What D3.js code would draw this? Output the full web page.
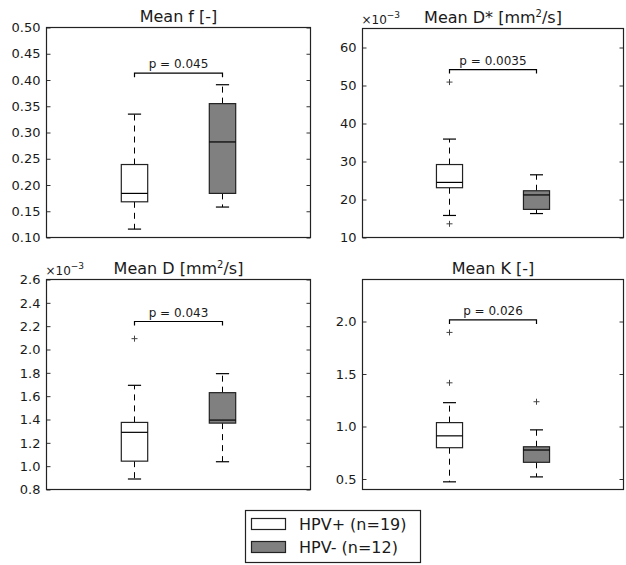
<!DOCTYPE html>
<html><head><meta charset="utf-8">
<script src="https://cdn.jsdelivr.net/npm/d3@7"></script>
<style>
body{margin:0;background:#fff}
svg{display:block}
text{font-family:"DejaVu Sans",sans-serif;fill:#1a1a1a}
</style>
</head><body>
<svg id="c" width="626" height="565"></svg>
<script>
// ---------------- data ----------------
const groups = ["HPV+ (n=19)", "HPV- (n=12)"];
const titles = ["Mean f [-]", "Mean D* [mm|2|/s]", "Mean D [mm|2|/s]", "Mean K [-]"];
const pValues = ["p = 0.045", "p = 0.0035", "p = 0.043", "p = 0.026"];
// box stats per group: [lower whisker, Q1, median, Q3, upper whisker]
const fStats = [[0.116, 0.168, 0.184, 0.239, 0.335], [0.158, 0.184, 0.282, 0.355, 0.391]];
const fOutliers = [[], []];
const dStarStats = [[15.8, 23.1, 24.5, 29.2, 35.9], [16.3, 17.4, 21.2, 22.3, 26.5]];
const dStarOutliers = [[50.9, 13.6], []];
const dStats = [[0.89, 1.043, 1.29, 1.375, 1.693], [1.038, 1.369, 1.395, 1.63, 1.793]];
const dOutliers = [[2.093], []];
const kStats = [[0.473, 0.798, 0.911, 1.037, 1.227], [0.52, 0.659, 0.776, 0.807, 0.968]];
const kOutliers = [[1.896, 1.416], [1.236]];
const yDomains = [[0.10, 0.50], [10, 65], [0.8, 2.6], [0.4, 2.4]];
const yTicks = [
  [0.10, 0.15, 0.20, 0.25, 0.30, 0.35, 0.40, 0.45, 0.50],
  [10, 20, 30, 40, 50, 60],
  [0.8, 1.0, 1.2, 1.4, 1.6, 1.8, 2.0, 2.2, 2.4, 2.6],
  [0.5, 1.0, 1.5, 2.0]
];
const tickFormats = [".2f", "d", ".1f", ".1f"];
const bracketLevels = [0.413, 54.2, 2.24, 2.015];
const exponents = [null, "\u22123", "\u22123", null];
const boxPositions = [1, 2];

const allStats = [fStats, dStarStats, dStats, kStats];
const allOutliers = [fOutliers, dStarOutliers, dOutliers, kOutliers];

// ---------------- layout / style ----------------
const panels = [
  {x0: 46.5, x1: 310.5, y0: 27.5, y1: 237.5},
  {x0: 362.5, x1: 623.5, y0: 28.5, y1: 237.5},
  {x0: 46.5, x1: 310.5, y0: 279.5, y1: 489.5},
  {x0: 362.5, x1: 623.5, y0: 279.5, y1: 489.5}
];
const fills = ["#ffffff", "#808080"];
const boxWidth = 0.3;

const svg = d3.select("#c");

panels.forEach((p, i) => {
  const g = svg.append("g");
  const x = d3.scaleLinear().domain([0, 3]).range([p.x0, p.x1]);
  const y = d3.scaleLinear().domain(yDomains[i]).range([p.y1, p.y0]);
  const bw = x(boxWidth) - x(0);

  // boxes
  allStats[i].forEach((s, j) => {
    const cx = x(boxPositions[j]);
    const [lo, q1, med, q3, hi] = s;
    // whiskers (dashed)
    g.append("line").attr("x1", cx).attr("x2", cx).attr("y1", y(q3)).attr("y2", y(hi))
      .attr("stroke", "#000").attr("stroke-width", 1).attr("stroke-dasharray", "6,5");
    g.append("line").attr("x1", cx).attr("x2", cx).attr("y1", y(q1)).attr("y2", y(lo))
      .attr("stroke", "#000").attr("stroke-width", 1).attr("stroke-dasharray", "6,5");
    // caps
    [lo, hi].forEach(v => {
      g.append("line").attr("x1", cx - bw / 4).attr("x2", cx + bw / 4)
        .attr("y1", y(v)).attr("y2", y(v)).attr("stroke", "#000").attr("stroke-width", 1.2);
    });
    // box
    g.append("rect").attr("x", cx - bw / 2).attr("y", y(q3))
      .attr("width", bw).attr("height", y(q1) - y(q3))
      .attr("fill", fills[j]).attr("stroke", "#222").attr("stroke-width", 1.2);
    // median
    g.append("line").attr("x1", cx - bw / 2).attr("x2", cx + bw / 2)
      .attr("y1", y(med)).attr("y2", y(med)).attr("stroke", "#000").attr("stroke-width", 1.2);
    // outliers
    allOutliers[i][j].forEach(v => {
      const oy = y(v);
      g.append("path").attr("d", `M${cx - 3},${oy}H${cx + 3}M${cx},${oy - 3}V${oy + 3}`)
        .attr("stroke", "#444").attr("stroke-width", 1).attr("fill", "none");
    });
  });

  // significance bracket
  const bx1 = x(boxPositions[0]), bx2 = x(boxPositions[1]);
  const by = y(bracketLevels[i]);
  g.append("path").attr("d", `M${bx1},${by + 4}V${by}H${bx2}V${by + 4}`)
    .attr("fill", "none").attr("stroke", "#000").attr("stroke-width", 1.2);
  g.append("text").attr("x", (bx1 + bx2) / 2).attr("y", by - 5)
    .attr("text-anchor", "middle").attr("font-size", 12).text(pValues[i]);

  // left axis (inward ticks)
  const la = g.append("g").attr("transform", `translate(${p.x0},0)`)
    .call(d3.axisLeft(y).tickValues(yTicks[i]).tickSize(-4).tickPadding(6)
      .tickFormat(d3.format(tickFormats[i])));
  la.select(".domain").remove();
  la.selectAll("line").attr("stroke", "#333");
  la.selectAll("text").attr("font-size", 13).attr("fill", "#222")
    .style("font-family", '"DejaVu Sans",sans-serif');
  // right axis ticks
  const ra = g.append("g").attr("transform", `translate(${p.x1},0)`)
    .call(d3.axisRight(y).tickValues(yTicks[i]).tickSize(-4).tickFormat(""));
  ra.select(".domain").remove();
  ra.selectAll("line").attr("stroke", "#333");

  // frame
  g.append("rect").attr("x", p.x0).attr("y", p.y0)
    .attr("width", p.x1 - p.x0).attr("height", p.y1 - p.y0)
    .attr("fill", "none").attr("stroke", "#222").attr("stroke-width", 1.2);

  // title with optional superscript (marked by |..|)
  const parts = titles[i].split("|");
  const t = g.append("text").attr("x", (p.x0 + p.x1) / 2).attr("y", p.y0 - 6)
    .attr("text-anchor", "middle").attr("font-size", 16).attr("fill", "#111");
  parts.forEach((s, k) => {
    if (k % 2 === 1) {
      t.append("tspan").attr("dy", -6).attr("font-size", 10).text(s);
    } else {
      const ts = t.append("tspan").text(s);
      if (k > 0) ts.attr("dy", 6);
    }
  });

  // exponent label
  if (exponents[i]) {
    const e = g.append("text").attr("x", p.x0 - 1).attr("y", p.y0 - 5)
      .attr("font-size", 12).attr("fill", "#333");
    e.append("tspan").text("\u00d710");
    e.append("tspan").attr("dy", -6).attr("font-size", 9).text(exponents[i]);
  }
});

// legend
const lg = svg.append("g");
lg.append("rect").attr("x", 245.5).attr("y", 510.5).attr("width", 175).attr("height", 52)
  .attr("fill", "#fff").attr("stroke", "#222").attr("stroke-width", 1.2);
groups.forEach((name, j) => {
  const cy = 524 + j * 23;
  lg.append("rect").attr("x", 251.5).attr("y", cy - 5.5).attr("width", 34).attr("height", 11)
    .attr("fill", fills[j]).attr("stroke", "#222").attr("stroke-width", 1.2);
  lg.append("text").attr("x", 299).attr("y", cy + 6).attr("font-size", 16).attr("fill", "#111").text(name);
});
</script>
</body></html>
